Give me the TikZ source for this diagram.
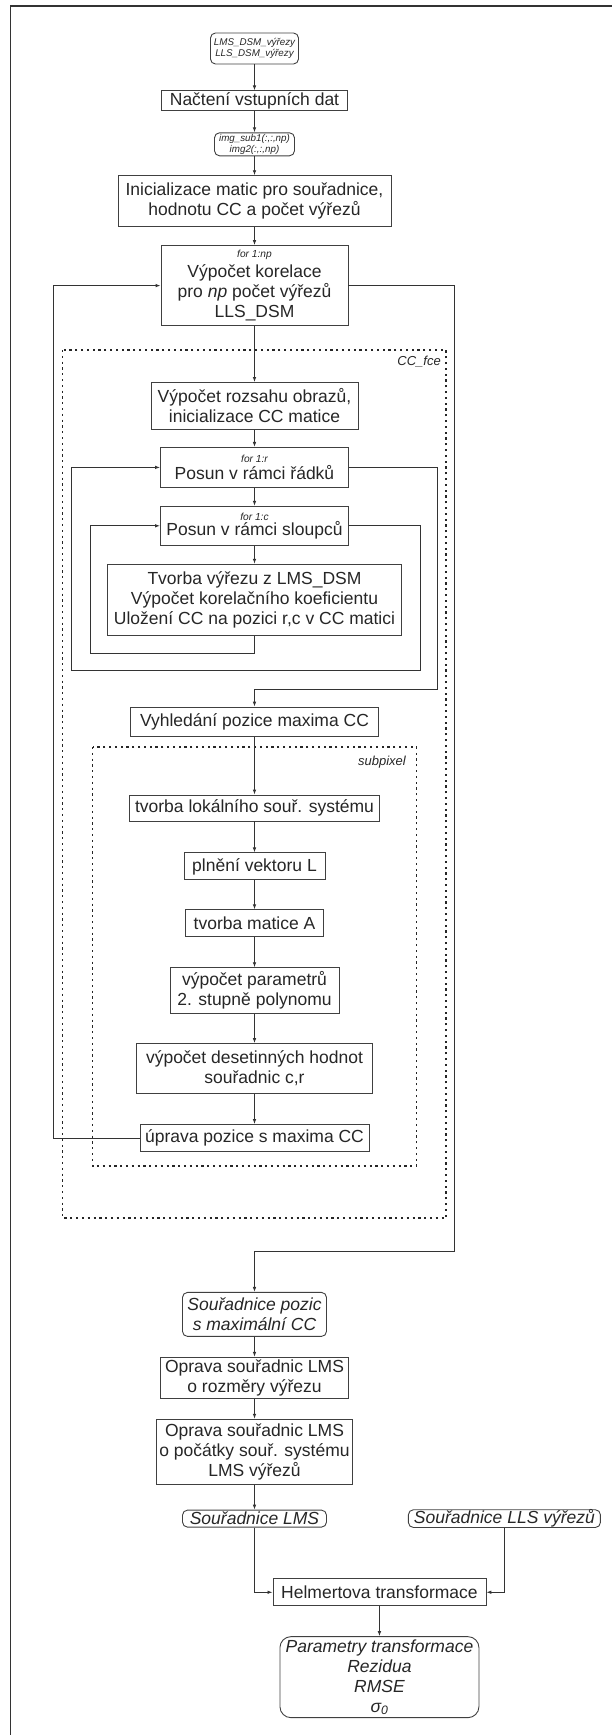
\documentclass[tikz,border=0pt]{standalone}
\usepackage{fontspec}
\setmainfont{Liberation Sans}
\usetikzlibrary{positioning, arrows.meta, calc}

\newcommand{\looptag}[1]{{\fontsize{10.2pt}{12pt}\selectfont\itshape #1}}

\begin{document}
\begin{tikzpicture}[
    x=1pt, y=-1pt,
    >={Latex[length=5pt,width=3.6pt]},
    process/.style={
        rectangle, draw=black!75, line width=0.9pt,
        inner sep=0pt, align=center, text=black!85,
        font=\fontsize{17.5pt}{20pt}\selectfont
    },
    dataio/.style={
        process, rounded corners=5pt,
        font=\fontsize{17.5pt}{20pt}\selectfont\itshape
    },
    fileio/.style={
        process, rounded corners=5pt,
        font=\fontsize{9.8pt}{11.6pt}\selectfont\itshape
    },
    region/.style={draw=black!85, line width=1.3pt, dash pattern=on 2.2pt off 3.6pt},
    regionlabel/.style={font=\fontsize{13pt}{15pt}\selectfont\itshape, text=black!85, inner sep=0pt},
    arrow/.style={->, draw=black!80, line width=0.9pt},
]
\useasboundingbox (0,0) rectangle (612,1735);

% ---------- Frame ----------
\draw[line width=1.2pt, black!80] (10.5,1735) -- (10.5,6) -- (612,6);

% ---------- Input ----------
\node[fileio, minimum width=88pt, minimum height=31pt] (vyrezy) at (254.5,48.5) {LMS\_DSM\_výřezy\\LLS\_DSM\_výřezy};
\node[process, minimum width=186pt, minimum height=20pt, below=26pt of vyrezy] (nacteni) {Načtení vstupních dat};
\node[fileio, minimum width=80pt, minimum height=23pt, below=21pt of nacteni] (img) {img\_sub1(:,:,np)\\img2(:,:,np)};
\node[process, minimum width=273pt, minimum height=51pt, below=19pt of img] (init) {Inicializace matic pro souřadnice,\\hodnotu CC a počet výřezů};

% ---------- Main loop ----------
\node[process, minimum width=187pt, minimum height=80pt, below=18pt of init] (korelace) {\looptag{for 1:np}\\Výpočet korelace\\pro \textit{np} počet výřezů\\LLS\_DSM};

% ---------- CC_fce ----------
\node[process, minimum width=207pt, minimum height=47pt, below=56pt of korelace] (rozsah) {Výpočet rozsahu obrazů,\\inicializace CC matice};
\node[process, minimum width=188pt, minimum height=40pt, below=17pt of rozsah] (radky) {\looptag{for 1:r}\\[-3pt]Posun v rámci řádků};
\node[process, minimum width=188pt, minimum height=39pt, below=18pt of radky] (sloupce) {\looptag{for 1:c}\\[-5pt]Posun v rámci sloupců};
\node[process, minimum width=294pt, minimum height=71pt, below=18pt of sloupce] (vyrez) {Tvorba výřezu z LMS\_DSM\\Výpočet korelačního koeficientu\\Uložení CC na pozici r,c v CC matici};
\node[process, minimum width=248pt, minimum height=29pt, below=71pt of vyrez] (maximum) {Vyhledání pozice maxima CC};

% ---------- subpixel ----------
\node[process, minimum width=250pt, minimum height=26pt, below=58pt of maximum] (lokal) {tvorba lokálního souř. systému};
\node[process, minimum width=141pt, minimum height=27pt, below=31pt of lokal] (vektorL) {plnění vektoru L};
\node[process, minimum width=138pt, minimum height=27pt, below=29pt of vektorL] (maticeA) {tvorba matice A};
\node[process, minimum width=169pt, minimum height=46pt, below=30pt of maticeA] (polynom) {výpočet parametrů\\2. stupně polynomu};
\node[process, minimum width=236pt, minimum height=50pt, below=29pt of polynom] (desetinne) {výpočet desetinných hodnot\\souřadnic c,r};
\node[process, minimum width=229pt, minimum height=27pt, below=30pt of desetinne] (uprava) {úprava pozice s maxima CC};

\draw[region] (62.5,350) rectangle (446,1218);
\node[regionlabel, anchor=east] (ccfce) at (441,362) {CC\_fce};
\draw[region] (92.5,747) rectangle (416.5,1166);
\node[regionlabel, anchor=east] (subpixel) at (406,762) {subpixel};

% ---------- Output part ----------
\node[dataio, minimum width=144pt, minimum height=44pt, below=140pt of uprava] (pozice) {Souřadnice pozic\\s maximální CC};
\node[process, minimum width=188pt, minimum height=41pt, below=20pt of pozice] (rozmery) {Oprava souřadnic LMS\\o rozměry výřezu};
\node[process, minimum width=196pt, minimum height=65pt, below=20pt of rozmery] (pocatky) {Oprava souřadnic LMS\\o počátky souř. systému\\LMS výřezů};
\node[dataio, minimum width=144pt, minimum height=17pt, below=25pt of pocatky] (lms) {Souřadnice LMS};
\node[dataio, minimum width=192pt, minimum height=17pt, right=81pt of lms] (lls) {Souřadnice LLS výřezů};
\node[process, minimum width=213pt, minimum height=27pt] (helmert) at ($(lms.south)!0.5!(lls.south)+(0,64.5)$) {Helmertova transformace};
\node[dataio, rounded corners=11pt, minimum width=199pt, minimum height=81pt, below=30pt of helmert] (vysledky) {Parametry transformace\\Rezidua\\RMSE\\σ\textsubscript{0}};

% ---------- Arrows ----------
\draw[arrow] (vyrezy) -- (nacteni);
\draw[arrow] (nacteni) -- (img);
\draw[arrow] (img) -- (init);
\draw[arrow] (init) -- (korelace);
\draw[arrow] (korelace) -- (rozsah);
\draw[arrow] (rozsah) -- (radky);
\draw[arrow] (radky) -- (sloupce);
\draw[arrow] (sloupce) -- (vyrez);
\draw[arrow] (maximum) -- (lokal);
\draw[arrow] (lokal) -- (vektorL);
\draw[arrow] (vektorL) -- (maticeA);
\draw[arrow] (maticeA) -- (polynom);
\draw[arrow] (polynom) -- (desetinne);
\draw[arrow] (desetinne) -- (uprava);
\draw[arrow] (pozice) -- (rozmery);
\draw[arrow] (rozmery) -- (pocatky);
\draw[arrow] (pocatky.south -| lms.north) -- (lms);

% loops
\draw[arrow] (vyrez.south) -- ++(0,18) -| ([xshift=-70pt]sloupce.west) -- (sloupce.west);
\draw[arrow] (sloupce.east) -- ++(71,0) -- ++(0,144.5) -| ([xshift=-88.5pt]radky.west) -- (radky.west);
\draw[arrow] (radky.east) -- ++(88,0) |- ([yshift=17pt]maximum.north) -- (maximum.north);
\draw[arrow] (uprava.west) -- ++(-86,0) |- (korelace.west);
\draw[arrow] (korelace.east) -- ++(106,0) |- ([yshift=41pt]pozice.north) -- (pozice.north);

% into the transformation
\draw[arrow] (lms.south) |- (helmert.west);
\draw[arrow] (lls.south) |- (helmert.east);
\draw[arrow] (helmert) -- (vysledky);

\end{tikzpicture}
\end{document}
